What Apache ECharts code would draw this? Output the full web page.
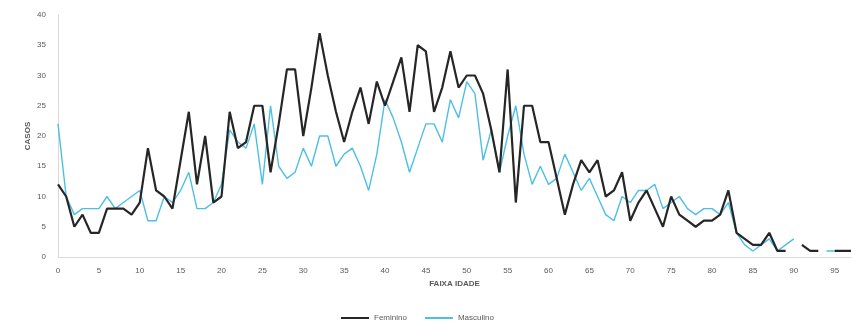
<!DOCTYPE html>
<html>
<head>
<meta charset="utf-8">
<script src="https://cdn.jsdelivr.net/npm/echarts@6/dist/echarts.min.js"></script>
<style>
  html, body { margin: 0; padding: 0; background: #fff; }
  #container { width: 853px; height: 329px; }
</style>
</head>
<body>
<div id="container"></div>
<script>
  // idades 0..97
  var idades = [];
  for (var i = 0; i <= 97; i++) idades.push(String(i));

  var feminino = [
    12, 10, 5, 7, 4, 4, 8, 8, 8, 7,
    9, 18, 11, 10, 8, 16, 24, 12, 20, 9,
    10, 24, 18, 19, 25, 25, 14, 22, 31, 31,
    20, 28, 37, 30, 24, 19, 24, 28, 22, 29,
    25, 29, 33, 24, 35, 34, 24, 28, 34, 28,
    30, 30, 27, 21, 14, 31, 9, 25, 25, 19,
    19, 13, 7, 12, 16, 14, 16, 10, 11, 14,
    6, 9, 11, 8, 5, 10, 7, 6, 5, 6,
    6, 7, 11, 4, 3, 2, 2, 4, 1, 1,
    null, 2, 1, 1, null, 1, 1, 1
  ];

  var masculino = [
    22, 10, 7, 8, 8, 8, 10, 8, 9, 10,
    11, 6, 6, 10, 9, 11, 14, 8, 8, 9,
    12, 21, 19, 18, 22, 12, 25, 15, 13, 14,
    18, 15, 20, 20, 15, 17, 18, 15, 11, 17,
    26, 23, 19, 14, 18, 22, 22, 19, 26, 23,
    29, 27, 16, 21, 14, 20, 25, 17, 12, 15,
    12, 13, 17, 14, 11, 13, 10, 7, 6, 10,
    9, 11, 11, 12, 8, 9, 10, 8, 7, 8,
    8, 7, 9, 4, 2, 1, 2, 3, 1, 2,
    3, null, null, null, 1, 1, null, null
  ];

  var yTicks = { min: 0, max: 40, interval: 5 };

  var dom = document.getElementById('container');
  var myChart = echarts.init(dom, null, { renderer: 'canvas' });
  var textFont = 'Liberation Sans';
  var option = {
    animation: false,
    textStyle: { fontFamily: textFont },
    grid: { left: 58, right: 2, top: 15, bottom: 72, containLabel: false },
    legend: {
      bottom: 2,
      left: 336,
      itemWidth: 28,
      itemHeight: 2,
      itemGap: 18,
      icon: 'rect',
      textStyle: { fontSize: 8, color: '#595959', fontFamily: textFont },
      data: ['Feminino', 'Masculino']
    },
    xAxis: {
      type: 'category',
      data: idades,
      boundaryGap: false,
      name: 'FAIXA IDADE',
      nameLocation: 'middle',
      nameGap: 23,
      nameTextStyle: { fontSize: 8, color: '#595959', fontWeight: 'bold' },
      axisLine: { lineStyle: { color: '#d9d9d9', width: 1 } },
      axisTick: { show: false },
      axisLabel: { interval: 4, fontSize: 8, color: '#595959', margin: 10 },
      splitLine: { show: false }
    },
    yAxis: {
      type: 'value',
      min: yTicks.min,
      max: yTicks.max,
      interval: yTicks.interval,
      name: 'CASOS',
      nameLocation: 'middle',
      nameGap: 26,
      nameRotate: 90,
      nameMoveOverlap: false,
      nameTextStyle: { fontSize: 8, color: '#595959', fontWeight: 'bold' },
      axisLine: { show: true, lineStyle: { color: '#d9d9d9', width: 1 } },
      axisTick: { show: false },
      axisLabel: { fontSize: 8, color: '#595959', margin: 12 },
      splitLine: { show: false }
    },
    series: [
      {
        name: 'Feminino',
        type: 'line',
        symbol: 'none',
        data: feminino,
        lineStyle: { color: '#262626', width: 2.2 },
        itemStyle: { color: '#262626' },
        z: 3
      },
      {
        name: 'Masculino',
        type: 'line',
        symbol: 'none',
        data: masculino,
        lineStyle: { color: '#4dbfe3', width: 1.4 },
        itemStyle: { color: '#4dbfe3' },
        z: 2
      }
    ]
  };
  myChart.setOption(option, true);
</script>
</body>
</html>
